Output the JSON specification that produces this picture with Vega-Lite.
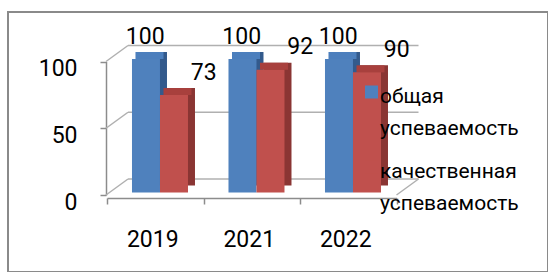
{
  "$schema": "https://vega.github.io/schema/vega-lite/v6.json",
  "width": 540,
  "height": 260,
  "autosize": {"type": "none"},
  "padding": {"left": 8, "top": 12, "right": 0, "bottom": 0},
  "background": "white",
  "config": {
    "view": {"stroke": "#8a8a8a", "strokeWidth": 2},
    "font": "Roboto",
    "style": {"guide-label": {"lineHeight": 31.6, "dy": 11}},
    "axis": {"labelFont": "Roboto", "labelColor": "#000000", "domainColor": "#8c8c8c", "tickColor": "#8c8c8c", "domainWidth": 1.5, "tickWidth": 1.5, "grid": false, "title": null}
  },
  "resolve": {"scale": {"xOffset": "independent"}},
  "data": {
    "values": [
      {"year": "2019", "series": "общая успеваемость", "value": 100},
      {"year": "2019", "series": "качественная успеваемость", "value": 73},
      {"year": "2021", "series": "общая успеваемость", "value": 100},
      {"year": "2021", "series": "качественная успеваемость", "value": 92},
      {"year": "2022", "series": "общая успеваемость", "value": 100},
      {"year": "2022", "series": "качественная успеваемость", "value": 90}
    ]
  },
  "layer": [
    {
      "data": {"values": [{"level": 0}, {"level": 50}, {"level": 100}]},
      "mark": {"type": "rule", "color": "#b0b0b0", "strokeWidth": 1.5, "xOffset": 21, "x2Offset": 22, "yOffset": -16, "y2Offset": -16},
      "encoding": {
        "x": {"datum": "2019", "type": "nominal", "bandPosition": 0},
        "x2": {"datum": "2022", "bandPosition": 1},
        "y": {"field": "level", "type": "quantitative", "scale": {"domain": [0, 100], "range": [183, 49.5]}, "axis": {"values": [0, 50, 100], "offset": -98, "tickSize": 6, "labelPadding": 23, "labelFontSize": 23, "labelOffset": -4}},
        "y2": {"field": "level"}
      }
    },
    {
      "data": {"values": [{"level": 0}, {"level": 50}, {"level": 100}]},
      "mark": {"type": "rule", "color": "#b0b0b0", "strokeWidth": 1.5, "xOffset": -1, "x2Offset": 21, "y2Offset": -16},
      "encoding": {
        "x": {"datum": "2019", "type": "nominal", "bandPosition": 0},
        "x2": {"datum": "2019", "bandPosition": 0},
        "y": {"field": "level", "type": "quantitative"},
        "y2": {"field": "level"}
      }
    },
    {
      "data": {"values": [{"level": 0}]},
      "mark": {"type": "rule", "color": "#b0b0b0", "strokeWidth": 1.5, "x2Offset": 22, "y2Offset": -16},
      "encoding": {
        "x": {"datum": "2022", "type": "nominal", "bandPosition": 1},
        "x2": {"datum": "2022", "bandPosition": 1},
        "y": {"field": "level", "type": "quantitative"},
        "y2": {"field": "level"}
      }
    },
    {
      "mark": {"type": "bar", "yOffset": -9.5, "y2Offset": -9.5},
      "encoding": {
        "x": {"field": "year", "type": "nominal"},
        "xOffset": {"field": "series", "type": "nominal", "scale": {"domain": ["общая успеваемость", "качественная успеваемость"], "range": [7, 103.5], "paddingInner": 0, "paddingOuter": 0.723, "align": 0.617}},
        "y": {"field": "value", "type": "quantitative"},
        "color": {"condition": {"test": "datum.series === 'общая успеваемость'", "value": "#335a8c"}, "value": "#8a3533"}
      }
    },
    {
      "mark": {"type": "bar", "yOffset": -9.5, "y2Offset": -2.5},
      "encoding": {
        "x": {"field": "year", "type": "nominal"},
        "xOffset": {"field": "series", "type": "nominal", "scale": {"domain": ["общая успеваемость", "качественная успеваемость"], "range": [3.5, 100], "paddingInner": 0, "paddingOuter": 0.723, "align": 0.617}},
        "y": {"field": "value", "type": "quantitative"},
        "y2": {"field": "value"},
        "color": {"condition": {"test": "datum.series === 'общая успеваемость'", "value": "#4c7fbd"}, "value": "#a8403d"}
      }
    },
    {
      "mark": {"type": "bar", "yOffset": -2.5, "y2Offset": -2.5},
      "encoding": {
        "x": {
          "field": "year", "type": "nominal",
          "scale": {"range": [99, 388.5], "paddingInner": 0, "paddingOuter": 0},
          "axis": {"tickBand": "extent", "labelAngle": 0, "labelAlign": "center", "labelOffset": -3, "tickSize": 6, "labelPadding": 24, "labelFontSize": 23, "offset": -74}
        },
        "xOffset": {"field": "series", "type": "nominal", "scale": {"domain": ["общая успеваемость", "качественная успеваемость"], "range": [0, 96.5], "paddingInner": 0, "paddingOuter": 0.723, "align": 0.617}},
        "y": {"field": "value", "type": "quantitative"},
        "color": {
          "field": "series", "type": "nominal",
          "scale": {"domain": ["общая успеваемость", "качественная успеваемость"], "range": ["#4f81bd", "#c0504d"]},
          "legend": {
            "title": null, "orient": "none", "legendX": 353, "legendY": 69.5, "padding": 0,
            "symbolType": "square", "symbolSize": 169, "symbolStrokeWidth": 0, "symbolOpacity": 1,
            "labelFont": "Roboto", "labelFontSize": 21, "labelColor": "#000000", "labelOffset": -2, "labelLimit": 300,
            "labelExpr": "split(datum.label, ' ')", "labelBaseline": "alphabetic", "rowPadding": 17
          }
        }
      }
    },
    {
      "transform": [{"filter": "datum.series === 'общая успеваемость'"}],
      "mark": {"type": "text", "font": "Roboto", "fontSize": 23, "color": "#000000", "baseline": "middle", "dx": 3, "dy": -25},
      "encoding": {
        "x": {"field": "year", "type": "nominal"},
        "xOffset": {"field": "series", "type": "nominal", "scale": {"domain": ["общая успеваемость", "качественная успеваемость"], "range": [0, 96.5], "paddingInner": 0, "paddingOuter": 0.723, "align": 0.617}},
        "y": {"field": "value", "type": "quantitative"},
        "text": {"field": "value", "type": "quantitative"}
      }
    },
    {
      "transform": [{"filter": "datum.series === 'качественная успеваемость'"}],
      "mark": {"type": "text", "font": "Roboto", "fontSize": 23, "color": "#000000", "baseline": "middle", "dx": 22, "dy": -25},
      "encoding": {
        "x": {"field": "year", "type": "nominal"},
        "xOffset": {"field": "series", "type": "nominal", "scale": {"domain": ["общая успеваемость", "качественная успеваемость"], "range": [0, 96.5], "paddingInner": 0, "paddingOuter": 0.723, "align": 0.617}},
        "y": {"field": "value", "type": "quantitative"},
        "text": {"field": "value", "type": "quantitative"}
      }
    }
  ]
}
